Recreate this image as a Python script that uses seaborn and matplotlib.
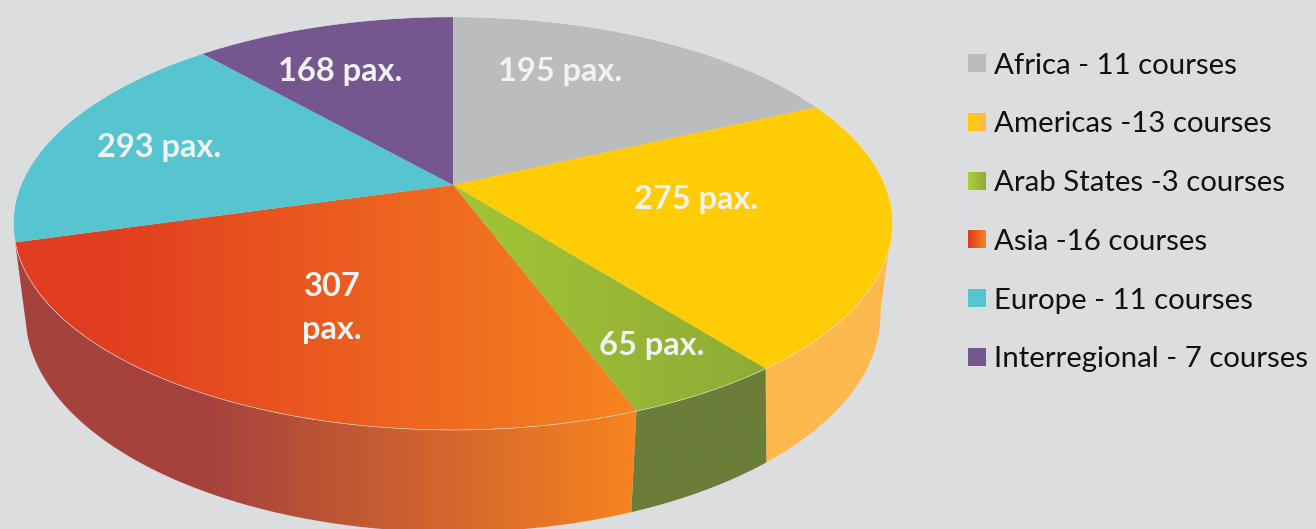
import matplotlib.pyplot as plt
import numpy as np
import seaborn as sns
from matplotlib.colors import LinearSegmentedColormap
from matplotlib.patches import Polygon

# shares as drawn in the picture (they do not follow the pax counts exactly)
regions = ["Africa", "Americas", "Arab States", "Asia", "Europe", "Interregional"]
shares = [18.1, 21.3, 4.9, 26.3, 17.9, 11.5]
pax_labels = ["195 pax.", "275 pax.", "65 pax.", "307\npax.", "293 pax.", "168 pax."]
legend_labels = ["Africa - 11 courses", "Americas -13 courses", "Arab States -3 courses",
                 "Asia -16 courses", "Europe - 11 courses", "Interregional - 7 courses"]

top_colors = [["#BBBCBE"], ["#FFCC05"], ["#A2C636", "#8FAB35"],
              [(0, "#E13D20"), (0.14, "#E13D20"), (1, "#F7841F")], ["#56C5D0"], ["#75578F"]]
wall_colors = [None, ["#FDB94E"], ["#6B7E38"],
               [(0, "#A6423E"), (0.31, "#A6423E"), (1, "#F7841F")], None, None]
swatch_colors = [["#BBBCBE"], ["#FFCC05", "#FDB94E"], ["#A8CF38", "#8FAB35"], ["#DF3B20", "#F7841F"], ["#56C5D0"], ["#75578F"]]
label_pos = [(560, 71), (696, 199), (652, 345), (332, 308), (159, 148), (340, 71)]

BG = "#DCDDDF"
CX, CY = 453, 185
TILT = 0.186


def top_xy(t):
    d = 1 + TILT * np.cos(t)
    return CX + 432 * np.sin(t) / d, CY - 199.4 * np.cos(t) / d


def rim_xy(t):
    # the seams on the right lean a little, so slide them along the rim
    lo, hi = np.radians(100), np.radians(159)
    t = t - np.radians(2.0) * np.sin(np.pi * np.clip((t - lo) / (hi - lo), 0, 1))
    d = 1 + TILT * np.cos(t)
    return CX + 420 * np.sin(t) / d, CY + 89 - 210 * np.cos(t) / d


def make_cmap(colors):
    return LinearSegmentedColormap.from_list("g", colors if len(colors) > 1 else colors * 2)


def fill_gradient(ax, xy, colors, x0, x1, zorder):
    patch = Polygon(xy, closed=True, facecolor="none", edgecolor="none", zorder=zorder)
    ax.add_patch(patch)
    im = ax.imshow(np.linspace(0, 1, 256).reshape(1, -1), cmap=make_cmap(colors), extent=(x0, x1, 540, -10),
                   aspect="auto", zorder=zorder)
    im.set_clip_path(patch)


sns.set_theme(style="white", rc={"figure.facecolor": BG, "axes.facecolor": BG})
plt.rcParams["font.family"] = ["Lato", "DejaVu Sans"]

fig, ax = plt.subplots(figsize=(13.16, 5.29), dpi=100)
fig.subplots_adjust(0, 0, 1, 1)

edges = np.radians(np.concatenate([[0], np.cumsum(shares)]) * 3.6)

for i, region in enumerate(regions):
    a0, a1 = edges[i], edges[i + 1]
    # side wall, only the part that faces the viewer
    lo, hi = max(a0, np.radians(100)), min(a1, np.radians(262))
    if wall_colors[i] and lo < hi:
        t = np.linspace(lo, hi, 80)
        xt, yt = top_xy(t)
        xr, yr = rim_xy(t)
        wall = np.r_[np.c_[xt, yt], np.c_[xr, yr][::-1]]
        fill_gradient(ax, wall, wall_colors[i], wall[:, 0].min(), wall[:, 0].max(), 2)

for i, region in enumerate(regions):
    t = np.linspace(edges[i], edges[i + 1], 120)
    x, y = top_xy(t)
    xy = np.r_[[[CX, CY]], np.c_[x, y]]
    fill_gradient(ax, xy, top_colors[i], xy[:, 0].min(), xy[:, 0].max(), 3)
    ax.plot(x, y, color="#E8E8E8", linewidth=0.4, zorder=4)
    ax.text(*label_pos[i], pax_labels[i], color="#F1F2F2", fontsize=23.5, fontweight="bold",
            ha="center", va="center", linespacing=1.55, zorder=5)

# legend
for i, label in enumerate(legend_labels):
    y = 63 + i * 58.8
    ax.imshow(np.linspace(0, 1, 32).reshape(1, -1), cmap=make_cmap(swatch_colors[i]),
              extent=(968, 986, y + 9, y - 9), aspect="auto", zorder=3)
    ax.text(994, y, label, color="#111111", fontsize=21.2, ha="left", va="center_baseline", zorder=5)

ax.set_xlim(0, 1316)
ax.set_ylim(529, 0)
ax.axis("off")
fig.savefig("out.png", dpi=100, facecolor=BG)
